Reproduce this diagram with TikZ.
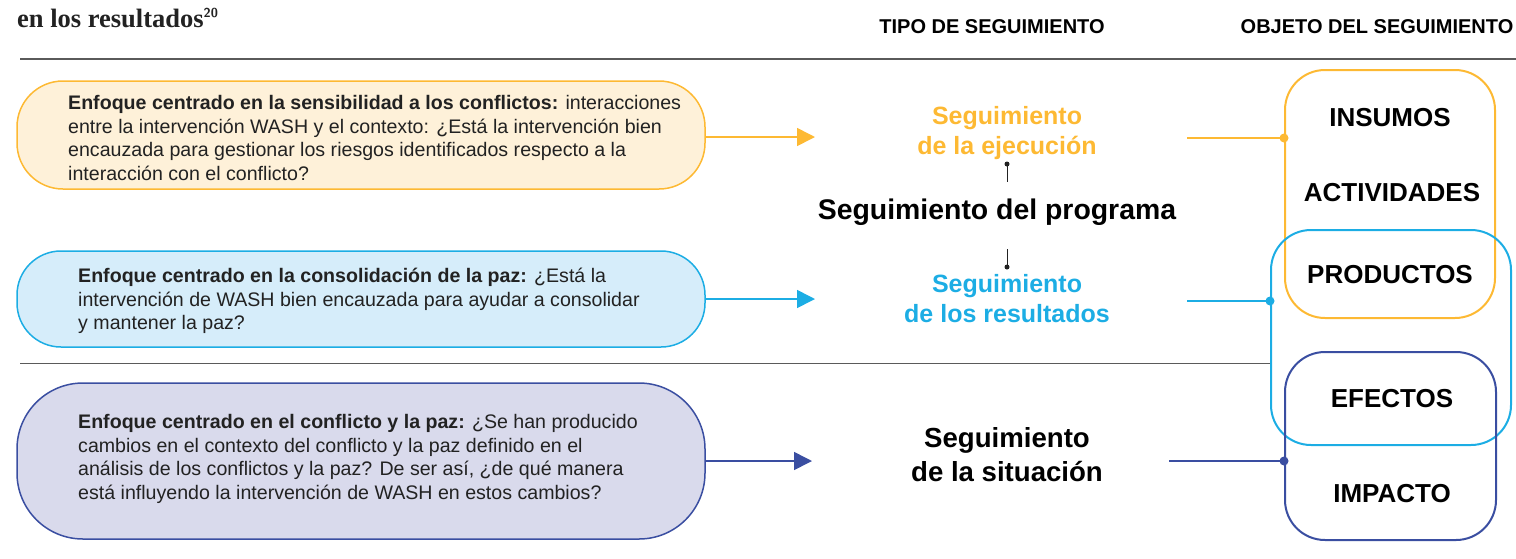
\documentclass[tikz,border=0pt]{standalone}
\usepackage{fontspec}
\setmainfont{Liberation Sans}
\newfontfamily\titlefont{Liberation Serif}
\newfontfamily\bodyfont{Liberation Sans}
\usetikzlibrary{arrows.meta}
\definecolor{yel}{HTML}{FDB933}
\definecolor{yelfill}{HTML}{FEF1D9}
\definecolor{cya}{HTML}{1CADE4}
\definecolor{cyafill}{HTML}{D6EDFA}
\definecolor{nav}{HTML}{3A4EA1}
\definecolor{navfill}{HTML}{D9DAEC}
\definecolor{rule}{HTML}{5A5A5A}
\definecolor{ink}{HTML}{222222}
\tikzset{
  apbox/.style={rectangle, line width=1.5pt, inner sep=0pt},
  aptext/.style={anchor=west, align=left, inner sep=0pt, text=ink,
    font=\bodyfont\fontsize{19.6}{23.4}\selectfont},
  header/.style={font=\bfseries\fontsize{20}{24}\selectfont, inner sep=0pt},
  tipo/.style={font=\bfseries\fontsize{25}{30}\selectfont, align=center, inner sep=0pt},
  obj/.style={rectangle, line width=2pt, rounded corners=40pt, inner sep=0pt},
  objlabel/.style={font=\bfseries\fontsize{26}{30}\selectfont, inner sep=0pt},
  arr/.style={line width=1.6pt, -{Triangle[length=18pt, width=18pt]}},
  link/.style={line width=1.8pt},
  dot/.style={circle, fill, inner sep=0pt, minimum size=#1},
}
\begin{document}
\begin{tikzpicture}[x=1pt, y=-1pt]
\useasboundingbox (0,0) rectangle (1516,558);

% title and headers
\node[anchor=base west, inner sep=0pt, text=ink, font=\titlefont\bfseries\fontsize{26.5}{30}\selectfont] (title) at (17,27) {en los resultados\textsuperscript{\sffamily\bfseries\fontsize{13}{16}\selectfont 20}};
\node[header] (h1) at (992,27) {TIPO DE SEGUIMIENTO};
\node[header] (h2) at (1377,27) {OBJETO DEL SEGUIMIENTO};

% rules
\coordinate (r1a) at (20,59);
\coordinate (r1b) at (1516,59);
\draw[rule, line width=1.5pt] (r1a) -- (r1b);

% left approach boxes
\node[apbox, draw=yel, fill=yelfill, rounded corners=46pt, minimum width=688pt, minimum height=108pt] (b1) at (361,135) {};
\node[aptext] (t1) at (68,138) {\textbf{Enfoque centrado en la sensibilidad a los conflictos:} interacciones\\entre la intervención WASH y el contexto: ¿Está la intervención bien\\encauzada para gestionar los riesgos identificados respecto a la\\interacción con el conflicto?};

\node[apbox, draw=cya, fill=cyafill, rounded corners=44pt, minimum width=688pt, minimum height=96pt] (b2) at (361,299) {};
\node[aptext] (t2) at (78,301) {\textbf{Enfoque centrado en la consolidación de la paz:} ¿Está la\\intervención de WASH bien encauzada para ayudar a consolidar\\y mantener la paz?};

\node[apbox, draw=nav, fill=navfill, rounded corners=66pt, minimum width=688pt, minimum height=156pt] (b3) at (361,461) {};
\node[aptext] (t3) at (78,459) {\textbf{Enfoque centrado en el conflicto y la paz:} ¿Se han producido\\cambios en el contexto del conflicto y la paz definido en el\\análisis de los conflictos y la paz? De ser así, ¿de qué manera\\está influyendo la intervención de WASH en estos cambios?};

% right object boxes
\node[obj, draw=yel, minimum width=210pt, minimum height=248pt] (ob1) at (1390,194) {};
\node[obj, draw=cya, minimum width=240pt, minimum height=215pt] (ob2) at (1391,337.5) {};
\node[obj, draw=nav, minimum width=211pt, minimum height=188pt] (ob3) at (1390.5,446) {};

\coordinate (r2a) at (20,363);
\draw[rule, line width=1pt] (r2a) -- (ob2.west |- r2a);

\node[objlabel] (l1) at (1390,118) {INSUMOS};
\node[objlabel] (l2) at (1392,193) {ACTIVIDADES};
\node[objlabel] (l3) at (1390,275) {PRODUCTOS};
\node[objlabel] (l4) at (1392,399) {EFECTOS};
\node[objlabel] (l5) at (1392,494) {IMPACTO};

% centre column
\node[tipo, text=yel] (s1) at (1007,133) {Seguimiento\\de la ejecución};
\node[font=\bfseries\fontsize{28.4}{32}\selectfont, inner sep=0pt] (sp) at (997,212) {Seguimiento del programa};
\node[tipo, text=cya] (s2) at (1007,299) {Seguimiento\\de los resultados};
\node[font=\bfseries\fontsize{27.6}{34}\selectfont, align=center, inner sep=0pt] (s3) at (1007,455) {Seguimiento\\de la situación};

% small connectors
\node[dot=5pt, fill=ink] (d1) at (1007,164) {};
\coordinate (d1e) at (1007,182);
\draw[ink, line width=1pt] (d1.center) -- (d1e);
\node[dot=5pt, fill=ink] (d2) at (1007,267) {};
\coordinate (d2s) at (1007,249);
\draw[ink, line width=1pt] (d2s) -- (d2.center);

% arrows from approach boxes
\coordinate (a1) at (815,137);
\coordinate (a2) at (815,299);
\coordinate (a3) at (812,461);
\draw[arr, yel] (b1.east |- a1) -- (a1);
\draw[arr, cya] (b2.east |- a2) -- (a2);
\draw[arr, nav] (b3.east |- a3) -- (a3);

% links to object boxes
\coordinate (c1) at (1187,138);
\coordinate (c2) at (1187,301);
\coordinate (c3) at (1169,461);
\node[dot=9pt, fill=yel] (e1) at (ob1.west |- c1) {};
\node[dot=9pt, fill=cya] (e2) at (ob2.west |- c2) {};
\node[dot=9pt, fill=nav] (e3) at (ob3.west |- c3) {};
\draw[link, yel] (c1) -- (e1.center);
\draw[link, cya] (c2) -- (e2.center);
\draw[link, nav] (c3) -- (e3.center);
\end{tikzpicture}
\end{document}
